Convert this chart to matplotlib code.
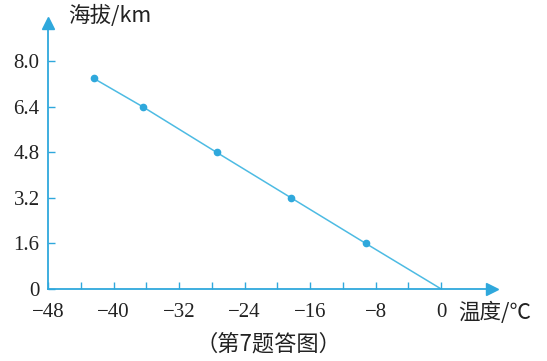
import numpy as np
import matplotlib.pyplot as plt

plt.rcParams['font.family'] = ['Liberation Serif', 'DejaVu Serif']

# data
temps = [-9.2, -18.3, -27.4, -36.4, -42.4]
heights = [1.6, 3.2, 4.8, 6.4, 7.4]
xticks = [-48, -40, -32, -24, -16, -8, 0]
yticks = [0, 1.6, 3.2, 4.8, 6.4, 8.0]

c_axis = '#2fa8dc'
c_line = '#4dbbe3'
cjk = ['Noto Sans CJK SC', 'DejaVu Sans']

fig = plt.figure(figsize=(5.47, 3.61), dpi=100)
ax = fig.add_axes([48/547, 1-289/361, (492-48)/547, (289-23)/361])

ax.set_xlim(-48, 6.2)
ax.set_ylim(0, 9.35)

# line goes through the origin
ax.plot([0] + temps, [0] + heights, color=c_line, lw=1.1)
ax.plot(temps, heights, 'o', color=c_axis, ms=4.5)

for s in ['top', 'right']:
    ax.spines[s].set_visible(False)
for s in ['left', 'bottom']:
    ax.spines[s].set_color(c_axis)
    ax.spines[s].set_linewidth(1.3)

# arrow heads
ax.plot(1, 0, '>', color=c_axis, ms=8, transform=ax.transAxes, clip_on=False)
ax.plot(0, 1, '^', color=c_axis, ms=8, transform=ax.transAxes, clip_on=False)

ax.set_xticks(xticks)
ax.set_xticklabels([str(t).replace('-', '\u2212') for t in xticks],
                   fontfamily='Liberation Serif')
ax.set_xticks(np.arange(-44, 0, 8), minor=True)
ax.set_yticks(yticks)
ax.set_yticklabels(['0', '1.6', '3.2', '4.8', '6.4', '8.0'],
                   fontfamily='Liberation Serif')

ax.tick_params(axis='both', which='both', direction='in', color=c_axis,
               length=5, width=1, labelsize=15, labelcolor='#222222')
ax.tick_params(axis='x', pad=10)
ax.tick_params(axis='y', pad=6)

fig.text(68/547, 1-16/361, '海拔/km', fontsize=15.5, va='center', ha='left', color='#222222',
         family=cjk)
fig.text(458/547, 1-313/361, '温度/℃', fontsize=15.5, va='center', ha='left', color='#222222',
         family=cjk)
fig.text(268/547, 1-344/361, '（第7题答图）', fontsize=16, va='center', ha='center', color='#222222',
         family=cjk)

fig.savefig('out.png', dpi=100)
